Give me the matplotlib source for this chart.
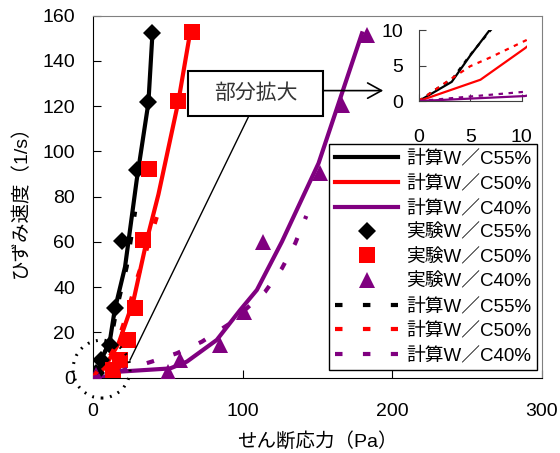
import matplotlib.pyplot as plt
from matplotlib.patches import Rectangle, Ellipse

plt.rcParams['font.family'] = ['Liberation Sans', 'Noto Sans CJK JP']

# measured points (実験)
exp55_x = [2.2, 5.6, 11.2, 14.5, 19.2, 29.2, 37, 39.7]
exp55_y = [2, 7.8, 14.5, 30.7, 60.6, 91.7, 122, 152.2]
exp50_x = [13.4, 17.8, 23.4, 27.9, 33.6, 37.5, 56.7, 66]
exp50_y = [3.4, 7.8, 16.7, 30.7, 60.9, 92.1, 122.4, 152.6]
exp40_x = [2.2, 50.4, 58.2, 85, 100.6, 113.9, 151.8, 166.3, 183]
exp40_y = [1, 2.7, 7.8, 14.5, 29.2, 60.1, 90.3, 120.5, 151.5]

# calculated curves, solid (計算)
calc55_x = [0, 3.2, 5, 6.9, 11.2, 14.5, 21.4, 29.2, 37, 39.7]
calc55_y = [0, 2.7, 6.4, 10, 16, 30, 49, 87.4, 121.5, 152]
calc50_x = [0, 6, 10.3, 17, 27, 36, 43.7, 57, 65]
calc50_y = [0, 3, 7.4, 15, 34, 61, 81, 122, 153]
calc40_x = [0, 10.3, 18, 51.5, 62.7, 82.7, 98.3, 109.5, 126.2, 150.7, 165.2, 179.7]
calc40_y = [0, 0.7, 2.7, 4.1, 7.1, 16.7, 29.9, 38.8, 60.1, 94.8, 123.5, 152.2]

# calculated curves, dashed
dash55_x = [0, 1.5, 3.3, 5, 7, 12, 16, 22.5, 28.1]
dash55_y = [0, 1.5, 3.2, 6.5, 10, 17, 31, 49, 73.4]
dash50_x = [0, 2.7, 5, 6.9, 10.5, 16, 23, 30, 37, 42.6]
dash50_y = [0, 2.7, 4.9, 6.1, 8.6, 15, 29, 45, 59, 71]
dash40_x = [0, 10.3, 39.2, 56, 72.7, 91.6, 115, 126.2, 135.1, 142.5]
dash40_y = [0, 1.3, 7.1, 10.8, 15.9, 24, 38, 48.3, 59.4, 71.5]

labels_calc = ['計算W／C55%', '計算W／C50%', '計算W／C40%']
labels_exp = ['実験W／C55%', '実験W／C50%', '実験W／C40%']
colors = ['black', '#ff0000', '#800080']

fig = plt.figure(figsize=(5.6, 4.53), dpi=100)
ax = fig.add_axes([0.1661, 0.1662, 0.8018, 0.7991])

calc = [(calc55_x, calc55_y), (calc50_x, calc50_y), (calc40_x, calc40_y)]
dash = [(dash55_x, dash55_y), (dash50_x, dash50_y), (dash40_x, dash40_y)]
exp = [(exp55_x, exp55_y, 'D', 9), (exp50_x, exp50_y, 's', 11),
       (exp40_x, exp40_y, '^', 12)]

handles = []
for (x, y), c, lab in zip(calc, colors, labels_calc):
    h, = ax.plot(x, y, color=c, lw=3, label=lab, zorder=3)
    handles.append(h)
for (x, y, m, ms), c, lab in zip(exp, colors, labels_exp):
    h, = ax.plot(x, y, ls='none', marker=m, ms=ms, color=c, mew=0,
                 label=lab, zorder=4)
    handles.append(h)
for (x, y), c, lab in zip(dash, colors, labels_calc):
    h, = ax.plot(x, y, color=c, lw=3, dashes=(1.8, 4.9), label=lab, zorder=5)
    handles.append(h)

ax.set_xlim(0, 300)
ax.set_ylim(0, 160)
ax.set_xticks([0, 100, 200, 300])
ax.set_yticks(range(0, 161, 20))
ax.tick_params(direction='in', length=6, labelsize=14)
ax.tick_params(axis='y', pad=13)
ax.tick_params(axis='x', pad=18)
for s in ['top', 'right']:
    ax.spines[s].set_color('#808080')

ax.set_xlabel('せん断応力（Pa）', fontsize=14)
ax.xaxis.set_label_coords(0.5, -0.15)
ax.set_ylabel('ひずみ速度（1/s）', fontsize=14)
ax.yaxis.set_label_coords(-0.14, 0.5)

# 部分拡大 callout
ax.add_patch(Rectangle((63.7, 115.7), 89.9, 19.9, fill=True, fc='white',
                       ec='black', lw=1.5, zorder=6))
ax.text(108.7, 125.6, '部分拡大', fontsize=15, color='#333333',
        ha='center', va='center', zorder=7)
ax.annotate('', xy=(193.9, 126.9), xytext=(153.6, 126.9),
            arrowprops=dict(arrowstyle='->,head_length=1.0,head_width=0.55',
                            lw=1.2, color='black', shrinkA=0, shrinkB=0),
            zorder=6)
ax.plot([103.9, 24.7], [115.4, 7.8], color='black', lw=1, zorder=6)
ax.add_patch(Ellipse((5.7, 3.8), 38.1, 25.6, fill=False, ec='black',
                     lw=2.2, ls=(0, (0.6, 2.2)), clip_on=False, zorder=6))

leg = ax.legend(handles=handles, loc='upper left',
                bbox_to_anchor=(0.5875, 0.6815), bbox_transform=fig.transFigure,
                borderaxespad=0, fontsize=13.5, handlelength=3.4,
                handletextpad=0.4, labelspacing=0.37, borderpad=0.3,
                fancybox=False, framealpha=1, edgecolor='black')
leg.get_frame().set_linewidth(1)
leg.set_zorder(10)

# inset (zoomed-in near origin)
ins = fig.add_axes([0.748, 0.777, 0.1925, 0.1567])
ins.set_facecolor('none')
for (x, y), c in zip(calc, colors):
    ins.plot(x, y, color=c, lw=1.6)
for (x, y), c in zip(dash, colors):
    ins.plot(x, y, color=c, lw=1.6, dashes=(2, 2.5))
ins.set_xlim(0, 10.5)
ins.set_ylim(0, 10)
ins.set_xticks([0, 5, 10])
ins.set_yticks([0, 5, 10])
ins.spines['bottom'].set_bounds(0, 10)
for s in ['top', 'right']:
    ins.spines[s].set_visible(False)
for s in ['left', 'bottom']:
    ins.spines[s].set_color('#404040')
ins.tick_params(direction='in', length=5, labelsize=14, color='#404040')
ins.tick_params(axis='y', pad=11)
ins.tick_params(axis='x', pad=20)

fig.savefig('out.png', dpi=100)
